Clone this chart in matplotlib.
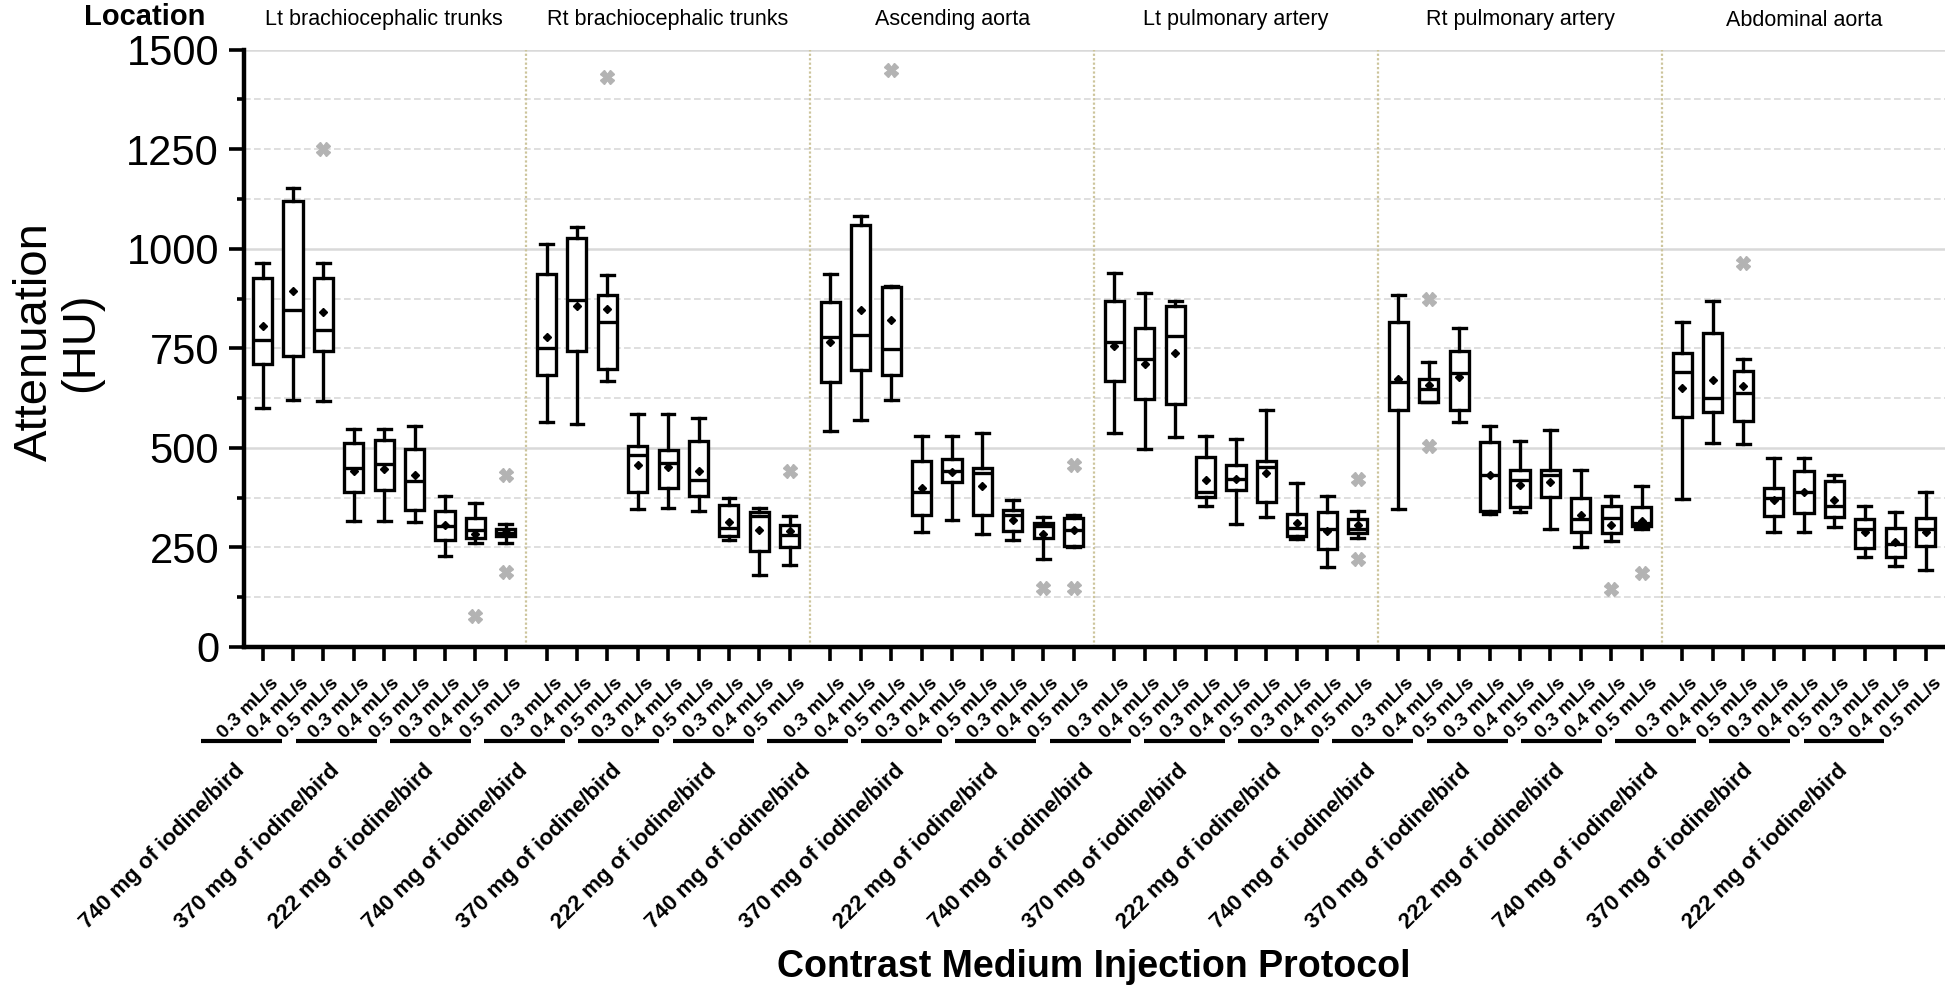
import numpy as np
import matplotlib
matplotlib.use('Agg')
import matplotlib.pyplot as plt
import matplotlib.transforms as mtransforms

plt.rcParams['font.family'] = ['Liberation Sans', 'DejaVu Sans']

# ── data (HU) ──────────────────────────────────────────────────────────────────
LOCATIONS = ['Lt brachiocephalic trunks', 'Rt brachiocephalic trunks',
             'Ascending aorta', 'Lt pulmonary artery',
             'Rt pulmonary artery', 'Abdominal aorta']
DOSES = ['740 mg of iodine/bird', '370 mg of iodine/bird', '222 mg of iodine/bird']
RATES = ['0.3 mL/s', '0.4 mL/s', '0.5 mL/s']

# per location: 9 boxes = dose (740, 370, 222) x rate (0.3, 0.4, 0.5)
WHISLO = [[601, 621, 617, 317, 317, 315, 229, 260, 260],
          [565, 561, 669, 347, 349, 342, 268, 182, 207],
          [542, 571, 620, 288, 320, 284, 269, 221, 252],
          [537, 497, 527, 353, 310, 326, 271, 200, 273],
          [347, 614, 565, 334, 340, 296, 252, 265, 296],
          [372, 513, 510, 289, 289, 302, 226, 204, 193]]
Q1 = [[711, 731, 744, 389, 394, 345, 269, 273, 278],
      [683, 742, 698, 389, 399, 380, 279, 242, 250],
      [666, 695, 683, 331, 414, 331, 292, 274, 254],
      [668, 622, 610, 376, 395, 365, 279, 246, 285],
      [596, 615, 596, 342, 351, 376, 290, 286, 303],
      [578, 590, 568, 330, 337, 327, 248, 227, 254]]
MEDIAN = [[771, 845, 795, 449, 460, 418, 305, 294, 285],
          [750, 872, 815, 481, 462, 420, 298, 328, 281],
          [778, 784, 747, 390, 442, 437, 332, 305, 295],
          [765, 722, 781, 390, 422, 452, 298, 296, 296],
          [666, 649, 687, 433, 420, 433, 322, 323, 311],
          [691, 626, 637, 374, 389, 355, 296, 258, 296]]
Q3 = [[926, 1119, 926, 513, 520, 498, 342, 324, 296],
      [937, 1026, 883, 504, 494, 516, 357, 338, 306],
      [867, 1060, 904, 467, 472, 449, 344, 311, 324],
      [868, 800, 855, 477, 456, 467, 334, 340, 321],
      [817, 674, 744, 515, 445, 445, 375, 353, 351],
      [737, 788, 693, 400, 443, 416, 321, 300, 323]]
WHISHI = [[965, 1152, 965, 548, 548, 554, 378, 361, 310],
          [1013, 1055, 933, 584, 584, 575, 375, 350, 330],
          [937, 1082, 906, 531, 531, 538, 368, 327, 331],
          [938, 889, 868, 531, 523, 594, 411, 380, 342],
          [883, 716, 802, 554, 516, 544, 444, 378, 404],
          [815, 869, 723, 474, 474, 431, 355, 338, 390]]
MEAN = [[805, 895, 841, 441, 447, 431, 306, 284, 288],
        [779, 857, 849, 458, 452, 443, 315, 294, 292],
        [765, 845, 820, 399, 439, 404, 320, 284, 295],
        [757, 710, 739, 420, 422, 437, 311, 292, 306],
        [674, 658, 677, 433, 408, 415, 331, 307, 317],
        [651, 670, 656, 369, 390, 368, 290, 263, 290]]
OUTLIERS = {(0, 2): [1250], (0, 7): [78], (0, 8): [431, 189],
            (1, 2): [1430], (1, 8): [442],
            (2, 2): [1450], (2, 7): [149], (2, 8): [458, 147],
            (3, 8): [422, 221],
            (4, 1): [875, 505], (4, 7): [145], (4, 8): [187],
            (5, 2): [965]}

GROUP_STEP = 9.34   # 8 box spacings + wider gap between locations
n_loc, n_box = len(LOCATIONS), 9

positions, stats = [], []
for g in range(n_loc):
    for k in range(n_box):
        positions.append(g * GROUP_STEP + k)
        stats.append(dict(whislo=WHISLO[g][k], q1=Q1[g][k], med=MEDIAN[g][k],
                          q3=Q3[g][k], whishi=WHISHI[g][k], mean=MEAN[g][k],
                          fliers=OUTLIERS.get((g, k), [])))

# ── figure ─────────────────────────────────────────────────────────────────────
W, H = 1945, 990
fig = plt.figure(figsize=(W / 100, H / 100), dpi=100)
ax = fig.add_axes([244 / W, (H - 647) / H, 1 - 244 / W, (647 - 49.6) / H])

for y in np.arange(125, 1501, 125):
    if y % 500 == 0:
        ax.axhline(y, color='#d9d9d9', lw=1.8, zorder=0)
    else:
        ax.axhline(y, color='#d9d9d9', lw=1.2, ls=(0, (4, 2)), zorder=0)

for g in range(1, n_loc):
    ax.axvline(g * GROUP_STEP - (GROUP_STEP - 8) / 2, color='#cdc59c',
               ls=(0, (1, 1)), lw=1.6, zorder=0.5)

ax.bxp(stats, positions=positions, widths=0.63, capwidths=0.42,
       patch_artist=True, showmeans=True, manage_ticks=False,
       boxprops=dict(facecolor='white', edgecolor='black', linewidth=2.4),
       whiskerprops=dict(color='black', linewidth=2.4),
       capprops=dict(color='black', linewidth=2.4),
       medianprops=dict(color='black', linewidth=2.4),
       meanprops=dict(marker='D', markerfacecolor='black',
                      markeredgecolor='black', markersize=4),
       flierprops=dict(marker='X', markerfacecolor='#b3b3b3',
                       markeredgecolor='#b3b3b3', markersize=9.5))

ax.set_xlim(-0.61, positions[-1] + 0.64)
ax.set_ylim(0, 1500)
for s in ['top', 'right']:
    ax.spines[s].set_visible(False)
for s in ['left', 'bottom']:
    ax.spines[s].set_linewidth(3.2)

ax.set_yticks(np.arange(0, 1501, 250))
ax.set_yticks(np.arange(125, 1500, 250), minor=True)
ax.tick_params(axis='y', which='major', length=11, width=2.6, labelsize=30, pad=7)
ax.tick_params(axis='y', which='minor', length=5, width=2.6)

ax.set_xticks(positions)
ax.set_xticklabels(RATES * (n_loc * 3), rotation=45, ha='right',
                   rotation_mode='anchor', fontsize=14, fontweight='bold')
ax.tick_params(axis='x', length=10, width=2.6, pad=10)
shift = mtransforms.ScaledTranslation(7 / 100, 0, fig.dpi_scale_trans)
for lab in ax.get_xticklabels():
    lab.set_transform(lab.get_transform() + shift)

# dose brackets + labels below the rate labels
trans = mtransforms.blended_transform_factory(ax.transData, fig.transFigure)
trip_centers = [g * GROUP_STEP + 3 * d + 1 for g in range(n_loc) for d in range(3)]
br_centers = np.linspace(trip_centers[0], trip_centers[-1], len(trip_centers)) - 1.68
for i, c in enumerate(br_centers):
    ax.plot([c - 1.33, c + 1.33], [(H - 741) / H] * 2, transform=trans,
            color='black', lw=3, clip_on=False, solid_capstyle='butt')
    ax.text(c, (H - 768) / H, DOSES[i % 3], transform=trans, rotation=45,
            rotation_mode='anchor', ha='right', va='center',
            fontsize=16, fontweight='bold')

# location headers
for g, loc in enumerate(LOCATIONS):
    ax.text(g * GROUP_STEP + 4, (H - 20) / H, loc, transform=trans,
            ha='center', va='center', fontsize=15.5)
fig.text(145 / W, (H - 17) / H, 'Location', ha='center', va='center',
         fontsize=21, fontweight='bold')

fig.text(58 / W, (H - 342) / H, 'Attenuation\n(HU)', rotation=90,
         ha='center', va='center', fontsize=34, multialignment='center',
         linespacing=1.05)
fig.text(1094 / W, (H - 967) / H, 'Contrast Medium Injection Protocol',
         ha='center', va='center', fontsize=27, fontweight='bold')

fig.savefig('out.png', dpi=100)
